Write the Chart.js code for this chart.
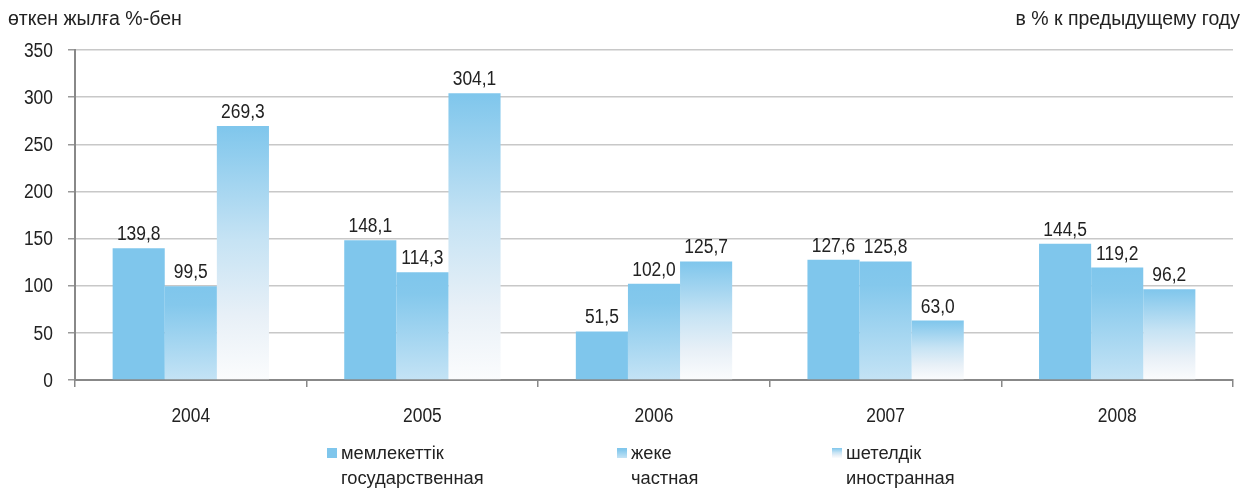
<!DOCTYPE html>
<html>
<head>
<meta charset="utf-8">
<script src="https://cdn.jsdelivr.net/npm/chart.js@4"></script>
<style>
html,body{margin:0;padding:0;background:#fff;}
#wrap{width:1248px;height:488px;position:relative;}
</style>
</head>
<body>
<div id="wrap"><canvas id="c"></canvas></div>
<script>
const categories = ['2004', '2005', '2006', '2007', '2008'];
const stateValues = [139.8, 148.1, 51.5, 127.6, 144.5];
const privateValues = [99.5, 114.3, 102.0, 125.8, 119.2];
const foreignValues = [269.3, 304.1, 125.7, 63.0, 96.2];
const labelsKk = ['мемлекеттік', 'жеке', 'шетелдік'];
const labelsRu = ['государственная', 'частная', 'иностранная'];
const yMin = 0, yMax = 350, yStep = 50;
const titleLeft = 'өткен жылға %-бен';
const titleRight = 'в % к предыдущему году';

const FONT = "'Liberation Sans', Arial, sans-serif";
const TEXT = '#222';
const BLUE = '#7fc6ec';
const NUM_SIZE = 20.5, NUM_SX = 0.85;

function stops(kind) {
  if (kind === 0) return [[0, BLUE], [1, BLUE]];
  if (kind === 1) return [[0, BLUE], [0.2, '#84c8ec'], [1, '#c4e3f5']];
  return [[0, BLUE], [0.45, '#c6e3f4'], [0.75, '#e8f0f7'], [1, '#fbfcfd']];
}
function barFill(kind) {
  return function (ctx) {
    const chart = ctx.chart;
    if (!chart.chartArea || ctx.type !== 'data') return BLUE;
    const ys = chart.scales.y;
    const top = ys.getPixelForValue(ctx.raw);
    const bot = ys.getPixelForValue(0);
    if (bot - top < 1) return BLUE;
    const g = chart.ctx.createLinearGradient(0, top, 0, bot);
    stops(kind).forEach(s => g.addColorStop(s[0], s[1]));
    return g;
  };
}

// condensed numeric text
function numText(ctx, txt, x, y, align, baseline) {
  ctx.save();
  ctx.font = NUM_SIZE + 'px ' + FONT;
  ctx.fillStyle = TEXT;
  ctx.textAlign = align;
  ctx.textBaseline = baseline;
  ctx.translate(x, y);
  ctx.scale(NUM_SX, 1);
  ctx.fillText(txt, 0, 0);
  ctx.restore();
}

const valueLabels = {
  id: 'valueLabels',
  afterDatasetsDraw(chart) {
    const ctx = chart.ctx;
    chart.data.datasets.forEach((ds, i) => {
      chart.getDatasetMeta(i).data.forEach((bar, j) => {
        const txt = ds.data[j].toFixed(1).replace('.', ',');
        numText(ctx, txt, bar.x, bar.y - 8, 'center', 'alphabetic');
      });
    });
  }
};

const axisLabels = {
  id: 'axisLabels',
  afterDraw(chart) {
    const ctx = chart.ctx;
    const ys = chart.scales.y, xs = chart.scales.x;
    ys.ticks.forEach(t => {
      numText(ctx, String(t.value), ys.right - 22, ys.getPixelForValue(t.value) + 1, 'right', 'middle');
    });
    categories.forEach((c, i) => {
      numText(ctx, c, xs.getPixelForValue(i), xs.top + 42, 'center', 'alphabetic');
    });
  }
};

const extras = {
  id: 'extras',
  afterDraw(chart) {
    const ctx = chart.ctx;
    ctx.save();
    ctx.fillStyle = TEXT;
    ctx.font = '19.5px ' + FONT;
    ctx.textBaseline = 'alphabetic';
    ctx.textAlign = 'left';
    ctx.fillText(titleLeft, 8, 25);
    ctx.textAlign = 'right';
    ctx.fillText(titleRight, 1240, 25);
    // legend
    const lx = [327, 617, 832];
    ctx.textAlign = 'left';
    ctx.font = '18.3px ' + FONT;
    for (let i = 0; i < 3; i++) {
      const x = lx[i], y = 448;
      const g = ctx.createLinearGradient(0, y, 0, y + 10);
      stops(i).forEach(s => g.addColorStop(s[0], s[1]));
      ctx.fillStyle = g;
      ctx.fillRect(x, y, 10, 10);
      ctx.fillStyle = TEXT;
      ctx.fillText(labelsKk[i], x + 14, 459);
      ctx.fillText(labelsRu[i], x + 14, 484);
    }
    ctx.restore();
  }
};

new Chart(document.getElementById('c'), {
  type: 'bar',
  data: {
    labels: categories,
    datasets: [
      { label: labelsRu[0], data: stateValues, backgroundColor: barFill(0) },
      { label: labelsRu[1], data: privateValues, backgroundColor: barFill(1) },
      { label: labelsRu[2], data: foreignValues, backgroundColor: barFill(2) }
    ]
  },
  options: {
    responsive: true,
    maintainAspectRatio: false,
    animation: false,
    devicePixelRatio: 1,
    layout: { padding: { top: 50, right: 15, left: 0, bottom: 0 } },
    datasets: { bar: { categoryPercentage: 0.675, barPercentage: 1.0, borderWidth: 0 } },
    plugins: { legend: { display: false }, tooltip: { enabled: false } },
    scales: {
      x: {
        afterFit(s) { s.height = 108; },
        grid: { offset: true, drawOnChartArea: false, drawTicks: true, tickLength: 7, color: '#888', lineWidth: 1.5 },
        border: { color: '#888', width: 2 },
        ticks: { font: { size: 18, family: FONT }, color: 'rgba(0,0,0,0)', padding: 15 }
      },
      y: {
        min: yMin, max: yMax,
        afterFit(s) { s.width = 75; },
        grid: { color: '#c8c8c8', lineWidth: 1.5, tickLength: 7, tickColor: '#999' },
        border: { color: '#888', width: 2 },
        ticks: { stepSize: yStep, font: { size: 18, family: FONT }, color: 'rgba(0,0,0,0)', padding: 14 }
      }
    }
  },
  plugins: [valueLabels, axisLabels, extras]
});
</script>
</body>
</html>
